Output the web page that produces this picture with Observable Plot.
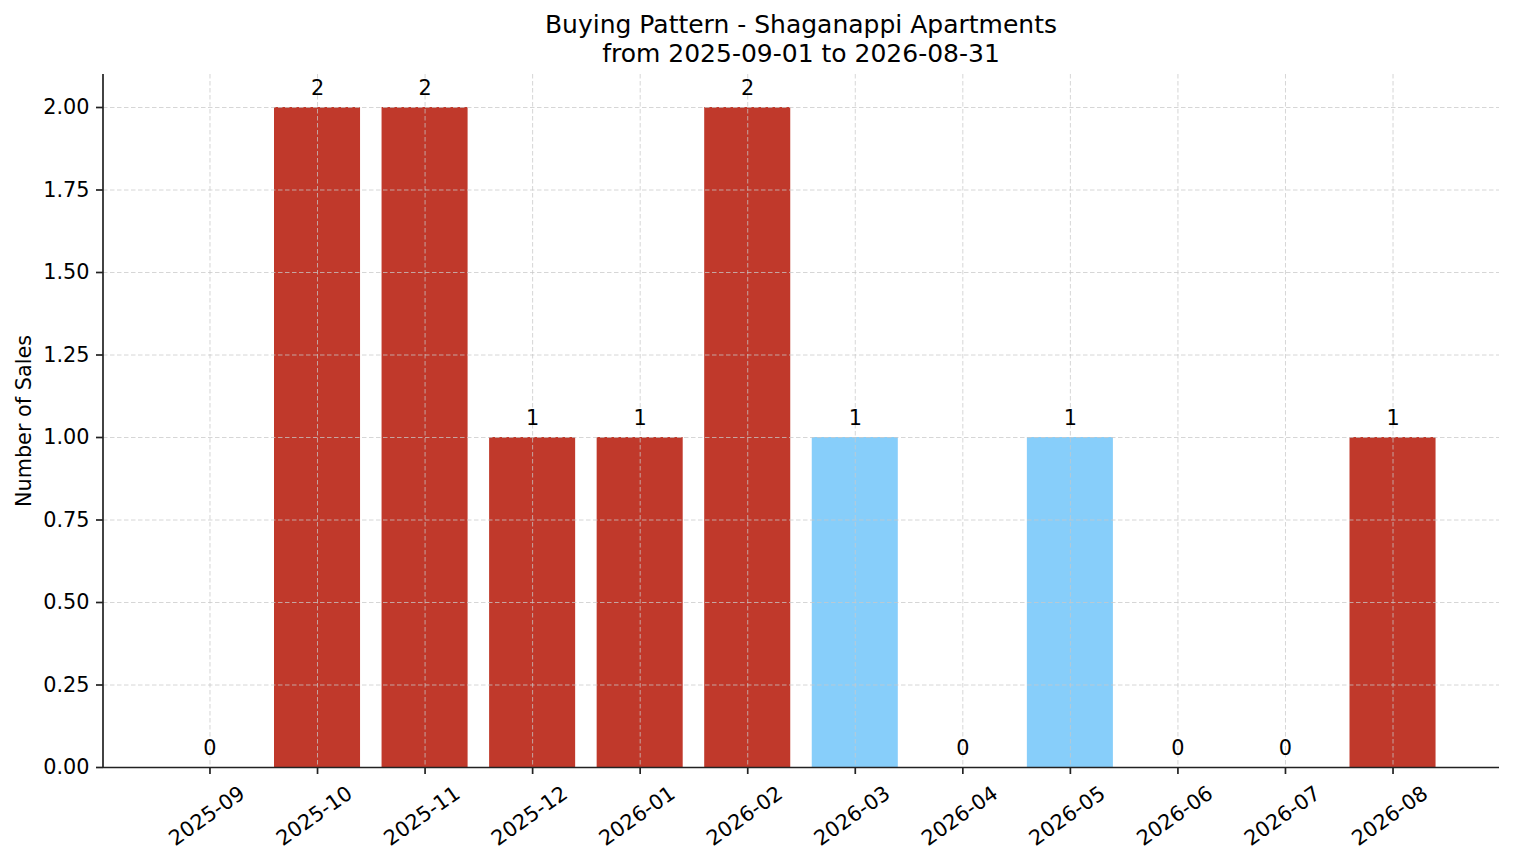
<!DOCTYPE html>
<html><head><meta charset="utf-8">
<script src="https://cdn.jsdelivr.net/npm/d3@7"></script>
<script src="https://cdn.jsdelivr.net/npm/@observablehq/plot@0.6"></script>
<style>
body{margin:0;background:#fff;font-family:"DejaVu Sans",sans-serif;}
#title{box-sizing:border-box;width:1514px;height:68px;padding:10px 15px 0 103px;text-align:center;font-size:25px;line-height:29px;color:#000;white-space:nowrap;}
#chart svg{display:block;}
</style></head><body>
<div id="title">Buying Pattern - Shaganappi Apartments<br>from 2025-09-01 to 2026-08-31</div>
<div id="chart"></div>
<script>
const months = ["2025-09","2025-10","2025-11","2025-12","2026-01","2026-02","2026-03","2026-04","2026-05","2026-06","2026-07","2026-08"];
const sales = [0, 2, 2, 1, 1, 2, 1, 0, 1, 0, 0, 1];
const barGroup = ["standard","standard","standard","standard","standard","standard","highlight","standard","highlight","standard","standard","standard"];
const yTicks = [0, 0.25, 0.5, 0.75, 1, 1.25, 1.5, 1.75, 2];
const yLabel = "Number of Sales";

const data = months.map((m, i) => ({month: m, sales: sales[i], group: barGroup[i]}));

const leftSpine = (index, scales, values, dims) => {
  const {marginLeft, marginTop, height, marginBottom} = dims;
  return d3.create("svg:line")
    .attr("x1", marginLeft).attr("x2", marginLeft)
    .attr("y1", marginTop).attr("y2", height - marginBottom + 0.85)
    .attr("stroke", "#222").attr("stroke-width", 1.7).node();
};

const chart = Plot.plot({
  width: 1514, height: 795,
  marginLeft: 103, marginRight: 15, marginTop: 6, marginBottom: 96,
  style: {fontFamily: "DejaVu Sans", fontSize: "20.8px", color: "#000", background: "#fff", overflow: "visible"},
  x: {type: "band", domain: months, paddingInner: 0.2, paddingOuter: 0.59, round: false, label: null},
  y: {domain: [0, 2.1], label: null},
  color: {domain: ["standard", "highlight"], range: ["#c0392b", "#87cefa"]},
  marks: [
    Plot.barY(data, {x: "month", y: "sales", fill: "group"}),
    Plot.gridY(yTicks, {stroke: "#c8c8c8", strokeOpacity: 0.75, strokeDasharray: "4.5,2.5", strokeWidth: 1}),
    Plot.gridX(months, {stroke: "#c8c8c8", strokeOpacity: 0.75, strokeDasharray: "4.5,2.5", strokeWidth: 1}),
    Plot.axisY(yTicks, {tickFormat: d3.format(".2f"), tickSize: 7, tickPadding: 7, stroke: "#222", strokeWidth: 1.7, label: null}),
    Plot.axisX(months, {tickSize: 7, tickFormat: () => "", stroke: "#222", strokeWidth: 1.7, label: null}),
    Plot.ruleY([0], {stroke: "#222", strokeWidth: 1.7}),
    leftSpine,
    Plot.text(data, {x: "month", y: "sales", text: d => String(d.sales), dy: -13, lineAnchor: "bottom", textAnchor: "middle", fill: "#000"}),
    Plot.text(months, {x: d => d, text: d => d, frameAnchor: "bottom", rotate: -35, textAnchor: "middle", lineAnchor: "middle", dx: -3, dy: 48.5, fill: "#000"}),
    Plot.text([yLabel], {text: d => d, frameAnchor: "left", rotate: -90, dx: -79.5, textAnchor: "middle", lineAnchor: "middle", fill: "#000"})
  ]
});
document.getElementById("chart").appendChild(chart);
</script>
</body></html>
